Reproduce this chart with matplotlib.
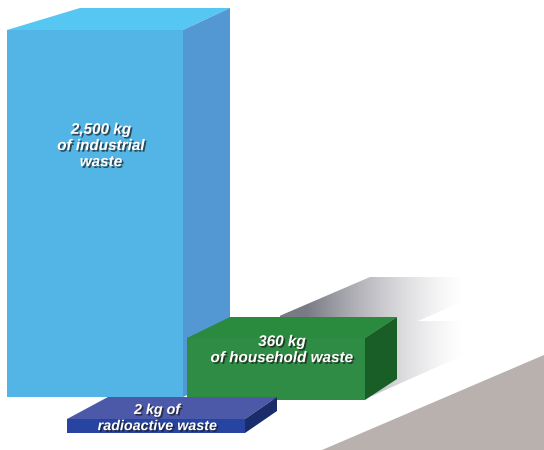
import numpy as np
import matplotlib.pyplot as plt
from matplotlib.patches import Polygon
import matplotlib.patheffects as pe

# waste per person, kg
categories = ["of industrial\nwaste", "of household waste", "radioactive waste"]
values = [2500, 360, 2]

# pixel layout of each block: front-left x, front-top y, width, height,
# back offset on the left / right edge, depth rise
layout = [
    (7, 30, 176, 367, 73, 47, 22),
    (187, 338, 178, 62, 43, 32, 21),
    (67, 419, 178, 14, 41, 32, 22),
]
# front, top, side colours
face_cols = [
    ("#52b5e6", "#56c6f3", "#5398d3"),
    ("#2f8c45", "#2a8a3e", "#1a5e27"),
    ("#2745a0", "#4b59a8", "#1b2c6a"),
]
label_font = [11, 11, 10.3]

fig = plt.figure(figsize=(5.44, 4.5), dpi=100)
ax = fig.add_axes([0, 0, 1, 1])
ax.set_xlim(0, 544)
ax.set_ylim(450, 0)
ax.axis("off")

# grey ground in the corner
ax.add_patch(Polygon([(322, 450), (544, 355), (544, 450)], closed=True,
                     fc="#b9b1ae", ec="none", zorder=1))

# soft shadow behind the green block
shadow = Polygon([(277, 317), (370, 277), (520, 277), (418, 321),
                  (540, 321), (372, 396), (300, 396)], closed=True,
                 fc="none", ec="none")
ax.add_patch(shadow)
xs = np.linspace(0, 1, 300)
a = np.clip(1 - (xs - 0.12) / 0.72, 0, 1) ** 1.4
grad = np.zeros((2, 300, 4))
grad[..., :3] = [0.42, 0.42, 0.47]
grad[..., 3] = a * 0.9
im = ax.imshow(grad, extent=(280, 500, 400, 270), aspect="auto",
               interpolation="bilinear", zorder=2)
im.set_clip_path(shadow)
ax.set_xlim(0, 544)
ax.set_ylim(450, 0)

shade = [pe.SimplePatchShadow(offset=(1.2, -1.2), shadow_rgbFace="#1a1a1a", alpha=0.7),
         pe.Normal()]

for i, (x, y, w, h, dxl, dxr, dy) in enumerate(layout):
    front, top, side = face_cols[i]
    z = 3 + i
    ax.add_patch(Polygon([(x, y), (x + w, y), (x + w, y + h), (x, y + h)],
                         closed=True, fc=front, ec="none", zorder=z))
    ax.add_patch(Polygon([(x, y), (x + dxl, y - dy), (x + w + dxr, y - dy), (x + w, y)],
                         closed=True, fc=top, ec="none", zorder=z))
    ax.add_patch(Polygon([(x + w, y), (x + w + dxr, y - dy),
                          (x + w + dxr, y + h - dy), (x + w, y + h)],
                         closed=True, fc=side, ec="none", zorder=z))

# labels
t_kw = dict(color="white", fontweight="bold", fontstyle="italic",
            family="Liberation Sans", ha="center", va="center",
            linespacing=1.2, path_effects=shade)
ax.text(101, 146, f"{values[0]:,} kg\n{categories[0]}", fontsize=label_font[0],
        zorder=10, **t_kw)
ax.text(282, 350, f"{values[1]:,} kg\n{categories[1]}", fontsize=label_font[1],
        zorder=10, **t_kw)
ax.text(157, 418, f"{values[2]:,} kg of\n{categories[2]}", fontsize=label_font[2],
        zorder=10, **t_kw)

fig.savefig("out.png", dpi=100, facecolor="white")
